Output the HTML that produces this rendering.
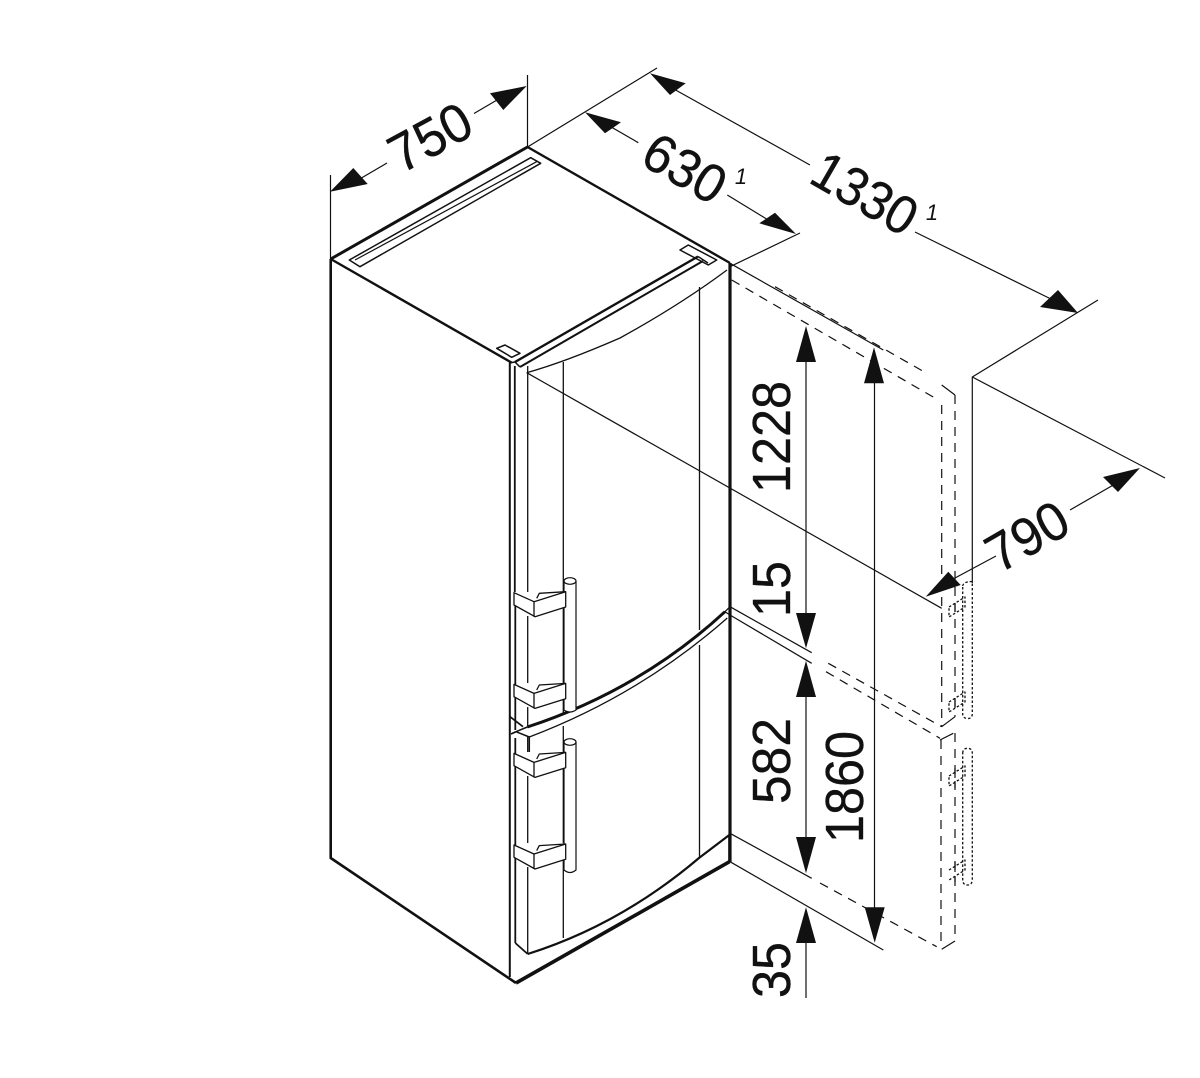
<!DOCTYPE html>
<html><head><meta charset="utf-8"><style>
html,body{margin:0;padding:0;background:#fff;width:1200px;height:1078px;overflow:hidden}
svg{display:block}
text{font-family:"Liberation Sans",sans-serif;fill:#111;text-anchor:middle}
.d{font-size:54px;stroke:#111;stroke-width:.35px}
</style></head><body>
<svg width="1200" height="1078" viewBox="0 0 1200 1078" fill="none" stroke="#111" stroke-linejoin="round">
<!-- thin extension and dimension lines -->
<g stroke-width="1.2">
<path d="M330.5 175V259M527.5 75V147M527.5 147L657 68M730 266.7L800 233M972.3 377V583M1098 300L972.3 377L1165 478"/>
<path d="M526.7 372.7L941.7 608.3M730 263.3L883.3 350M730 606.7L811.7 652.7M730 615L811.7 663.3M730 833.3L811.7 878.3M730 861.7L883.3 950"/>
<path d="M358 180L387 163M474 113.5L497 100M606 124L638.3 142.7M727.3 195L778 226M672 88L810 165M915 232L1055 301M955 578L996 556M1070 510L1122 480"/>
<path d="M806 360V613M806 696V837M806 942V998M874.5 382V908"/>
</g>
<!-- dashed -->
<g stroke-width="1.2" stroke-dasharray="9 7">
<path d="M775 286.7L926.7 373.3M731.7 280L938.3 400M941.7 405V726.7M955 395V716.7"/>
<path d="M828.3 663.3L941.7 726.7M826 671.7L940 738.3M941 740V948M955 733V941M820 883L936.7 946.7"/>
</g>
<path stroke-width="1.2" d="M941.7 385L955 395M941.7 726.7L955 716.7M940 740L953.3 733.3M941.7 949.3L955 941"/>
<!-- dotted handle ghosts -->
<g stroke-width="1.3" stroke-dasharray="2.5 2">
<path d="M962.7 586Q963 581.7 972.3 581.5V714Q972 719 967 718.5Q962.7 718 962.7 714Z"/>
<path d="M962.7 753Q963 748.3 967.5 748.3Q972.3 748.3 972.3 753V880Q972 885 967.5 885Q962.7 885 962.7 880Z"/>
<path d="M949 607L965 597V607L949 617ZM949 702L965 692V702L949 712ZM949 776L965 766V776L949 786ZM949 870L965 860V870L949 880"/>
</g>
<g stroke-width="1.2"><path d="M955 603V612M955 698V707M955 768V778M955 783V788M955 862V872M955 876V882"/></g>
<!-- body outline -->
<g>
<path d="M330.7 259L527.5 147" stroke-width="3"/>
<path d="M527.5 147L730 263M330.7 259L511.7 362.7" stroke-width="2.4"/>
<path d="M330.7 259V858L516 983" stroke-width="2.6"/>
<path d="M516 983L729.5 861.7" stroke-width="3.6"/>
<path d="M730 263V862" stroke-width="3.2"/>
<path d="M509.8 363V977" stroke-width="2"/>
<path d="M514.8 366V592M515.3 605V730M515.3 738V943" stroke-width="1.8"/>
</g>
<!-- top details -->
<g stroke-width="1.5">
<path d="M349.3 260L530.7 157.7L540.7 163.3L360 266.7Z"/>
<path d="M355 260L536.7 161.7" stroke-width="1.2"/>
<path d="M680 250L688.3 245L716.7 260L708.3 265Z"/>
<path d="M496.7 348.3L505 345L520 353.3L511.7 357.3Z"/>
<path d="M515 362L698 256.5" stroke-width="2.4"/>
<path d="M520 367L703 261" stroke-width="2"/>
<path d="M698 256.5L708 263"/>
<path d="M509 363L515 362L520 367"/>
</g>
<!-- door -->
<g stroke-width="1.3">
<path d="M526.7 372.7Q565 362 620 338Q680 305 727 270"/>
<path d="M527.7 366V592M527.7 616V683M527.7 707V726M527.7 737V752M527.7 776V843M527.7 867V954"/>
<path d="M563.3 362V592M563.3 607V683M563.3 698V713M563.3 726V752M563.3 768V843M563.3 860V938"/>
<path d="M699.5 287V630M699.5 645V858"/>
<path d="M527.7 954Q620 925 699 858L729.3 835V862" stroke-width="2.2"/>
<path d="M515.3 943L527.7 954" stroke-width="1.8"/>
<path d="M529.3 737Q640 695 727.3 618"/>
<path d="M516 731.7L529.3 737V752M516 731.7L527.3 727" stroke-width="1.5"/>
<path d="M510 716.7L523 726.7M511 734L516 731.7" stroke-width="1.7"/>
</g>
<path stroke-width="3" d="M527.3 727Q640 690 725 611.7"/>
<path stroke-width="1.2" d="M730 606.7L725 611.7L730 615"/>
<!-- handles -->
<g fill="#fff" stroke-width="1.2">
<path d="M564 581V710Q570 714 576 710V581"/>
<ellipse cx="570" cy="581" rx="6" ry="3.3"/>
<path d="M564 742V870Q570 875 576 870V742"/>
<ellipse cx="570" cy="742" rx="6" ry="3.3"/>
</g>
<defs>
<g id="b"><path fill="#fff" stroke-width="1.3" d="M514 592.7L534 601.7L565.7 591.7V607L535 616.7L514 605Z"/>
<path stroke-width="1.3" d="M536.7 598.3L539.3 593.3L565.7 591.7M534 601.7V616.7"/></g>
</defs>
<use href="#b"/><use href="#b" y="91.7"/><use href="#b" y="160.7"/><use href="#b" y="252.3"/>
<!-- arrowheads -->
<g fill="#111" stroke="none">
<polygon points="330,191.7 353.3,168 367.7,184"/>
<polygon points="526.7,86 490,93.3 503.3,110"/>
<polygon points="585,112.3 605,133.3 621,122.3"/>
<polygon points="796,234 759.3,223.3 775,212.7"/>
<polygon points="650,73.3 670,95 685.7,83.3"/>
<polygon points="1078,313 1040,307 1058,290"/>
<polygon points="925.7,596.7 948.3,571.7 960.7,585"/>
<polygon points="1140,468 1103,477 1118,492"/>
<polygon points="806,326 796,362 816,362"/>
<polygon points="806,648.3 796,613 816,613"/>
<polygon points="806,660.7 796,697 816,697"/>
<polygon points="806,873.3 796,837 816,837"/>
<polygon points="806,907.3 796,943 816,943"/>
<polygon points="874,347.3 864,383.3 884,383.3"/>
<polygon points="874.7,942.7 864.7,907.3 884.7,907.3"/>
</g>
<!-- labels -->
<g>
<text class="d" transform="translate(430,137) rotate(-28.5)" y="19" textLength="86" lengthAdjust="spacingAndGlyphs">750</text>
<text class="d" transform="translate(685,168) rotate(30)" y="19" textLength="86" lengthAdjust="spacingAndGlyphs">630</text>
<text class="d" transform="translate(865,193) rotate(30)" y="19" textLength="112" lengthAdjust="spacingAndGlyphs">1330</text>
<text class="d" transform="translate(1027,536) rotate(-30)" y="19" textLength="86" lengthAdjust="spacingAndGlyphs">790</text>
<text class="d" transform="translate(771,437) rotate(-90)" y="19" textLength="112" lengthAdjust="spacingAndGlyphs">1228</text>
<text class="d" transform="translate(771,589) rotate(-90)" y="19" textLength="56" lengthAdjust="spacingAndGlyphs">15</text>
<text class="d" transform="translate(771,761) rotate(-90)" y="19" textLength="86" lengthAdjust="spacingAndGlyphs">582</text>
<text class="d" transform="translate(844,787) rotate(-90)" y="19" textLength="112" lengthAdjust="spacingAndGlyphs">1860</text>
<text class="d" transform="translate(771,970) rotate(-90)" y="19" textLength="56" lengthAdjust="spacingAndGlyphs">35</text>
<text transform="translate(741,184)" style="font-size:22px;font-style:italic" stroke="none">1</text>
<text transform="translate(932,220)" style="font-size:22px;font-style:italic" stroke="none">1</text>
</g>
</svg>
</body></html>
